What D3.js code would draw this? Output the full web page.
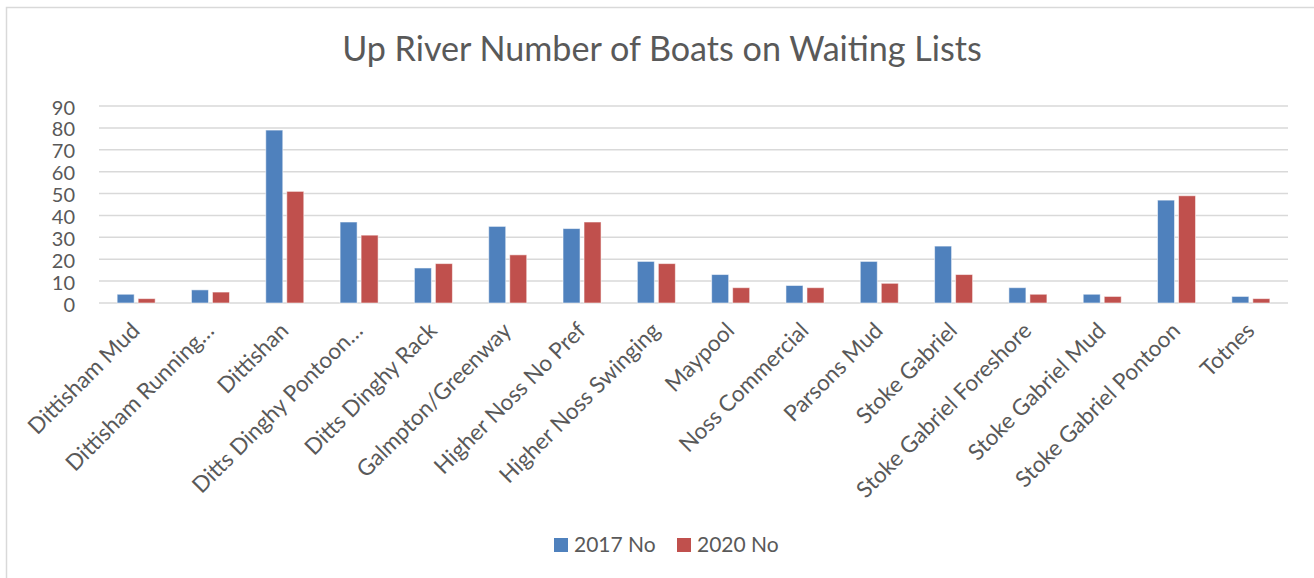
<!DOCTYPE html>
<html>
<head>
<meta charset="utf-8">
<script src="https://cdn.jsdelivr.net/npm/d3@7"></script>
<style>
  html, body { margin: 0; padding: 0; background: #ffffff; }
  svg { display: block; }
  text { font-family: Lato, "Open Sans", sans-serif; fill: #595959; }
</style>
</head>
<body>
<svg id="chart" width="1314" height="578"></svg>
<script>
// Waiting-list counts per mooring location
const categories = [
  "Dittisham Mud", "Dittisham Running…", "Dittishan", "Ditts Dinghy Pontoon…",
  "Ditts Dinghy Rack", "Galmpton/Greenway", "Higher Noss No Pref", "Higher Noss Swinging",
  "Maypool", "Noss Commercial", "Parsons Mud", "Stoke Gabriel",
  "Stoke Gabriel Foreshore", "Stoke Gabriel Mud", "Stoke Gabriel Pontoon", "Totnes"
];
const seriesNames = ["2017 No", "2020 No"];
const values2017 = [4, 6, 79, 37, 16, 35, 34, 19, 13, 8, 19, 26, 7, 4, 47, 3];
const values2020 = [2, 5, 51, 31, 18, 22, 37, 18, 7, 7, 9, 13, 4, 3, 49, 2];
const yTicks = [0, 10, 20, 30, 40, 50, 60, 70, 80, 90];
const titleText = "Up River Number of Boats on Waiting Lists";

const colors = { "2017 No": "#4F81BD", "2020 No": "#C0504D" };

const svg = d3.select("#chart");
const W = 1314, H = 578;
const plot = { left: 99, right: 1288, top: 106, bottom: 303 };

// chart frame
svg.append("rect")
  .attr("x", 6.5).attr("y", 7.5)
  .attr("width", W + 20).attr("height", H + 20)
  .attr("fill", "#ffffff")
  .attr("stroke", "#d9d9d9").attr("stroke-width", 1.5);

// title, sized to its measured width
const title = svg.append("text")
  .attr("x", 662).attr("y", 61)
  .attr("text-anchor", "middle")
  .style("font-size", "32px")
  .text(titleText);
const tw = title.node().getComputedTextLength();
title.style("font-size", (32 * 640 / tw) + "px");

const x = d3.scaleBand()
  .domain(categories)
  .range([plot.left, plot.right])
  .padding(0);

const xInner = d3.scaleBand()
  .domain(seriesNames)
  .range([0, x.bandwidth()])
  .paddingInner(0.19)
  .paddingOuter(0.864);

const y = d3.scaleLinear()
  .domain([0, 90])
  .range([plot.bottom, plot.top]);

// horizontal gridlines
svg.append("g")
  .selectAll("line")
  .data(yTicks)
  .join("line")
  .attr("x1", plot.left).attr("x2", plot.right)
  .attr("y1", d => y(d)).attr("y2", d => y(d))
  .attr("stroke", "#d9d9d9").attr("stroke-width", 1.5);

// y axis labels
const yAxis = svg.append("g")
  .attr("transform", `translate(${plot.left - 24},0)`)
  .call(d3.axisLeft(y).tickValues(yTicks).tickSize(0).tickPadding(0));
yAxis.select(".domain").remove();
yAxis.selectAll("text")
  .attr("dy", "0.40em")
  .style("font-size", "20px")
  .style("font-family", "Lato, 'Open Sans', sans-serif")
  .attr("fill", "#595959");

// bars
const rows = categories.map((c, i) => ({
  category: c,
  items: [
    { series: "2017 No", value: values2017[i] },
    { series: "2020 No", value: values2020[i] }
  ]
}));

svg.append("g")
  .selectAll("g")
  .data(rows)
  .join("g")
  .attr("transform", d => `translate(${x(d.category)},0)`)
  .selectAll("rect")
  .data(d => d.items)
  .join("rect")
  .attr("x", d => xInner(d.series))
  .attr("width", xInner.bandwidth())
  .attr("y", d => y(d.value))
  .attr("height", d => y(0) - y(d.value))
  .attr("fill", d => colors[d.series])
  .attr("stroke", "rgba(255,255,255,0.55)")
  .attr("stroke-width", 1);

// x axis labels, rotated
const xAxis = svg.append("g")
  .attr("transform", `translate(0,${plot.bottom})`)
  .call(d3.axisBottom(x).tickSize(0).tickPadding(0));
xAxis.select(".domain").remove();
xAxis.selectAll("text")
  .attr("text-anchor", "end")
  .attr("dy", 0)
  .attr("transform", "translate(5,29) rotate(-45)")
  .style("font-size", "22.5px")
  .style("font-family", "Lato, 'Open Sans', sans-serif")
  .attr("fill", "#595959");

// legend
const legendItems = [
  { name: "2017 No", sx: 554, tx: 574 },
  { name: "2020 No", sx: 677, tx: 697 }
];
const legend = svg.append("g");
legend.selectAll("rect")
  .data(legendItems)
  .join("rect")
  .attr("x", d => d.sx).attr("y", 538)
  .attr("width", 14).attr("height", 14)
  .attr("fill", d => colors[d.name]);
legend.selectAll("text")
  .data(legendItems)
  .join("text")
  .attr("x", d => d.tx).attr("y", 552)
  .style("font-size", "21px")
  .text(d => d.name);
</script>
</body>
</html>
